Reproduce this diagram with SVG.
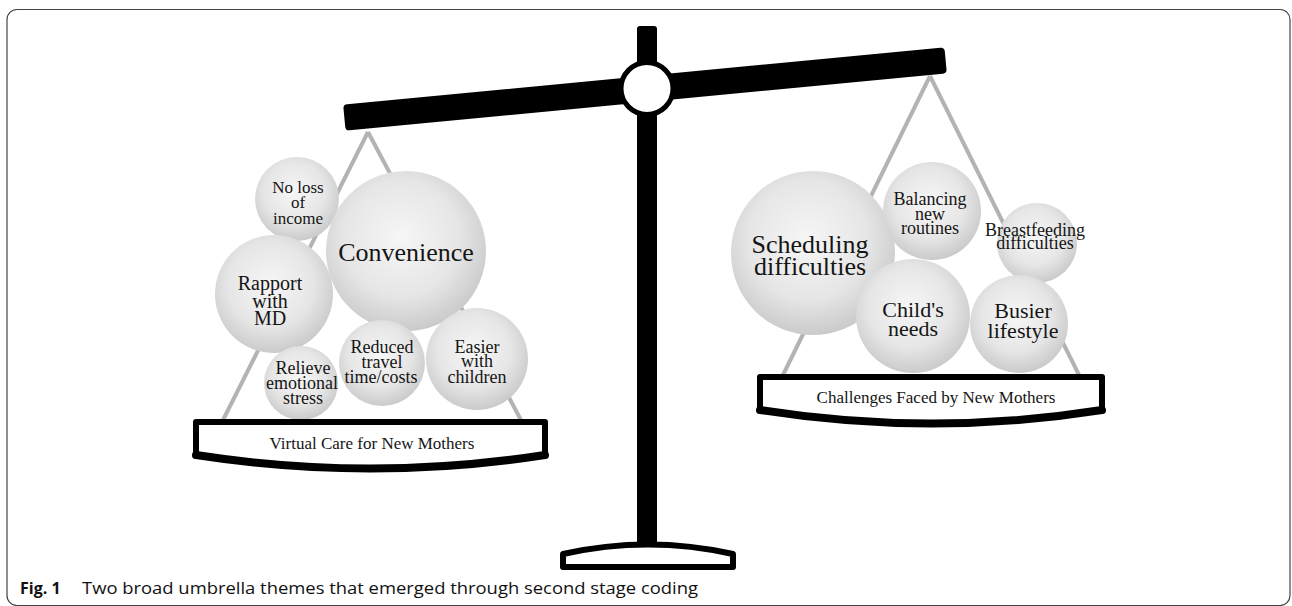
<svg xmlns="http://www.w3.org/2000/svg" width="1292" height="606" viewBox="0 0 1292 606">
  <style>
    .lbl { font-family: "Liberation Serif", "Times New Roman", serif; fill: #151515; text-anchor: middle; }
    .pan-lbl { font-family: "Liberation Serif", "Times New Roman", serif; font-size: 17px; fill: #151515; text-anchor: middle; }
    .hanger { stroke: #b3b3b3; stroke-width: 4; fill: none; stroke-linecap: butt; }
    .pan { fill: #ffffff; stroke: #000000; stroke-width: 6; stroke-linejoin: round; }
    .pan-base { fill: none; stroke: #000000; stroke-width: 8; stroke-linecap: round; }
    .ball { fill: url(#ballFill); }
    .cap { font-family: "Open Sans", "Noto Sans", sans-serif; font-size: 16px; fill: #111111; }
  </style>
  <defs>
    <radialGradient id="ballFill" cx="0.47" cy="0.42" r="0.6">
      <stop offset="0" stop-color="#f6f6f6"/>
      <stop offset="0.6" stop-color="#e6e6e6"/>
      <stop offset="1" stop-color="#c8c8c8"/>
    </radialGradient>
  </defs>

  <rect width="1292" height="606" fill="#ffffff"/>
  <!-- figure frame -->
  <rect x="7" y="9.5" width="1283" height="596" rx="10" fill="none" stroke="#444444" stroke-width="1.2"/>

  <!-- stand: post and foot -->
  <g id="stand">
    <rect x="637" y="26" width="20" height="522" rx="3" fill="#000000"/>
    <path d="M563,567 L563,554 Q648,535 733,554 L733,567 Z" fill="#ffffff" stroke="#000000" stroke-width="6" stroke-linejoin="round"/>
  </g>

  <!-- pan suspension lines -->
  <g id="connectors">
    <line class="hanger" x1="368" y1="132" x2="222" y2="422"/>
    <line class="hanger" x1="368" y1="132" x2="522" y2="422"/>
    <line class="hanger" x1="930" y1="76" x2="782" y2="377"/>
    <line class="hanger" x1="930" y1="76" x2="1080" y2="377"/>
  </g>

  <!-- beam and pivot -->
  <g id="beam">
    <rect x="343" y="76" width="604" height="26" rx="4" fill="#000000" transform="rotate(-5.45 645 89)"/>
    <circle cx="647" cy="88.5" r="26" fill="#ffffff" stroke="#000000" stroke-width="5"/>
  </g>

  <!-- left pan: benefits -->
  <g id="no-loss-of-income">
    <circle class="ball" cx="297" cy="199" r="42"/>
    <text class="lbl" font-size="17" x="298" y="193">No loss</text>
    <text class="lbl" font-size="17" x="298" y="208">of</text>
    <text class="lbl" font-size="17" x="298" y="224">income</text>
  </g>
  <g id="convenience">
    <circle class="ball" cx="406" cy="251" r="80"/>
    <text class="lbl" font-size="26" x="406" y="261">Convenience</text>
  </g>
  <g id="rapport-with-md">
    <circle class="ball" cx="274" cy="294" r="59"/>
    <text class="lbl" font-size="20" x="270" y="290">Rapport</text>
    <text class="lbl" font-size="20" x="270" y="308">with</text>
    <text class="lbl" font-size="20" x="270" y="325">MD</text>
  </g>
  <g id="relieve-emotional-stress">
    <circle class="ball" cx="301" cy="383" r="37"/>
    <text class="lbl" font-size="18" x="303" y="374">Relieve</text>
    <text class="lbl" font-size="18" x="302" y="389">emotional</text>
    <text class="lbl" font-size="18" x="303" y="404">stress</text>
  </g>
  <g id="reduced-travel">
    <circle class="ball" cx="382" cy="363" r="43"/>
    <text class="lbl" font-size="18" x="382" y="353">Reduced</text>
    <text class="lbl" font-size="18" x="382" y="368">travel</text>
    <text class="lbl" font-size="18" x="381" y="383">time/costs</text>
  </g>
  <g id="easier-with-children">
    <circle class="ball" cx="477" cy="359" r="51"/>
    <text class="lbl" font-size="18" x="477" y="353">Easier</text>
    <text class="lbl" font-size="18" x="477" y="367">with</text>
    <text class="lbl" font-size="18" x="477" y="383">children</text>
  </g>
  <g id="virtual-care-pan">
    <path class="pan" d="M196,422 H545 V455 Q370,482 196,455 Z"/>
    <path class="pan-base" d="M545,455 Q370,482 196,455"/>
    <text class="pan-lbl" x="372" y="449">Virtual Care for New Mothers</text>
  </g>

  <!-- right pan: challenges -->
  <g id="scheduling-difficulties">
    <circle class="ball" cx="813" cy="253" r="82"/>
    <text class="lbl" font-size="26" x="810" y="253">Scheduling</text>
    <text class="lbl" font-size="26" x="810" y="275">difficulties</text>
  </g>
  <g id="balancing-new-routines">
    <circle class="ball" cx="932" cy="211" r="49"/>
    <text class="lbl" font-size="18" x="930" y="205">Balancing</text>
    <text class="lbl" font-size="18" x="930" y="220">new</text>
    <text class="lbl" font-size="18" x="930" y="234">routines</text>
  </g>
  <g id="breastfeeding-difficulties">
    <circle class="ball" cx="1037" cy="243" r="40"/>
    <text class="lbl" font-size="18" x="1035" y="236">Breastfeeding</text>
    <text class="lbl" font-size="18" x="1035" y="249">difficulties</text>
  </g>
  <g id="childs-needs">
    <circle class="ball" cx="913" cy="316" r="57"/>
    <text class="lbl" font-size="22" x="913" y="317">Child's</text>
    <text class="lbl" font-size="22" x="913" y="336">needs</text>
  </g>
  <g id="busier-lifestyle">
    <circle class="ball" cx="1019" cy="324" r="49"/>
    <text class="lbl" font-size="22" x="1023" y="318">Busier</text>
    <text class="lbl" font-size="22" x="1023" y="338">lifestyle</text>
  </g>
  <g id="challenges-pan">
    <path class="pan" d="M760,377 H1102 V410 Q931,437 760,410 Z"/>
    <path class="pan-base" d="M1102,410 Q931,437 760,410"/>
    <text class="pan-lbl" x="936" y="403">Challenges Faced by New Mothers</text>
  </g>

  <!-- caption -->
  <text class="cap" x="20" y="594"><tspan font-weight="bold">Fig. 1</tspan></text>
  <text class="cap" x="82" y="594" textLength="616" lengthAdjust="spacingAndGlyphs">Two broad umbrella themes that emerged through second stage coding</text>
</svg>
